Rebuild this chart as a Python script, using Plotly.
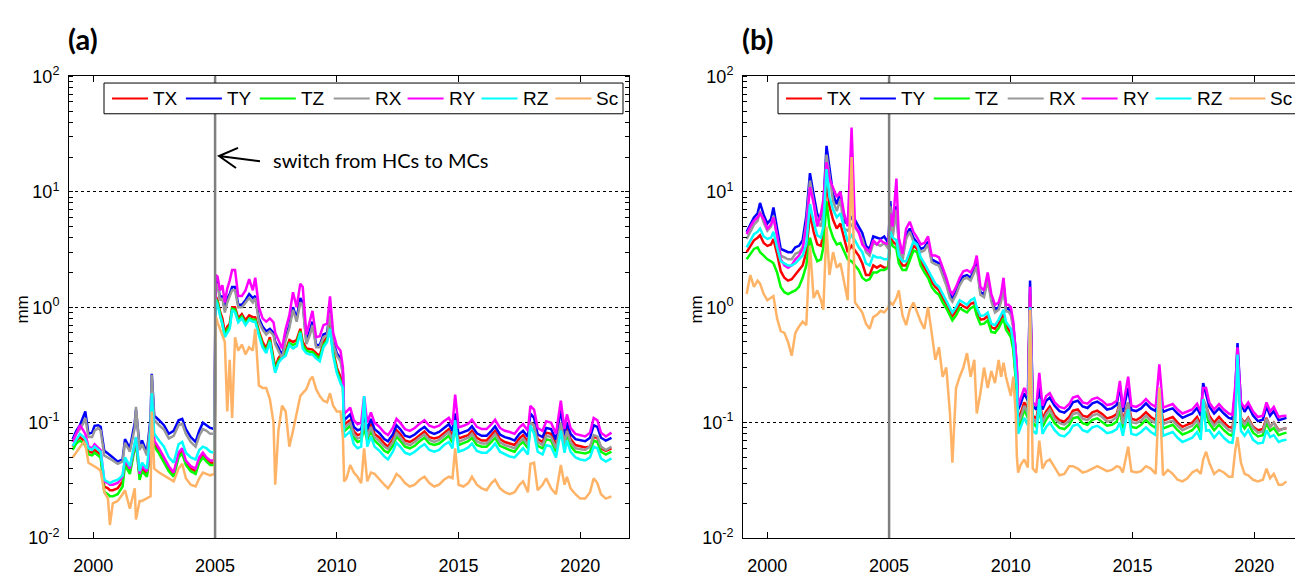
import plotly.graph_objects as go

W, H = 1295, 576
NAMES = ["TX", "TY", "TZ", "RX", "RY", "RZ", "Sc"]
COLORS = ["#ff0000", "#0000ff", "#00ff00", "#999999", "#ff00ff", "#00ffff", "#ffb366"]

X_TICKS = [2000, 2005, 2010, 2015, 2020]
Y_TICKS = [0.01, 0.1, 1, 10, 100]
Y_TICK_LABELS = ["10<sup>-2</sup>", "10<sup>-1</sup>", "10<sup>0</sup>", "10<sup>1</sup>", "10<sup>2</sup>"]
SWITCH_YEAR = 2005
PANEL_LABELS = ["(a)", "(b)"]
Y_TITLE = "mm"
NOTE = "switch from HCs to MCs"

# ---------------- panel (a) ----------------
a_dates = [
    1999.15, 1999.3, 1999.45, 1999.6, 1999.67, 1999.8, 1999.95, 2000.05, 2000.2, 2000.3,
    2000.45, 2000.6, 2000.68, 2000.8, 2001.0, 2001.2, 2001.3, 2001.5, 2001.7, 2001.75,
    2001.9, 2002.0, 2002.2, 2002.35, 2002.4, 2002.5, 2002.7, 2002.9, 2003.1, 2003.3,
    2003.5, 2003.65, 2003.8, 2004.0, 2004.2, 2004.35, 2004.5, 2004.65, 2004.8, 2004.98,
    2005.02, 2005.1, 2005.2, 2005.3, 2005.4, 2005.5, 2005.6, 2005.7, 2005.82, 2005.95,
    2006.1, 2006.25, 2006.4, 2006.55, 2006.65, 2006.8, 2006.95, 2007.1, 2007.25, 2007.4,
    2007.47, 2007.6, 2007.75, 2007.9, 2008.05, 2008.2, 2008.35, 2008.5, 2008.6, 2008.75,
    2008.9, 2009.0, 2009.15, 2009.3, 2009.45, 2009.6, 2009.72, 2009.85, 2010.0, 2010.15, 2010.25,
    2010.3, 2010.4, 2010.55, 2010.7, 2010.85, 2011.0, 2011.12, 2011.25, 2011.4, 2011.55,
    2011.75, 2011.95, 2012.1, 2012.3, 2012.45, 2012.6, 2012.8, 2013.0, 2013.2, 2013.4,
    2013.6, 2013.8, 2014.0, 2014.2, 2014.4, 2014.6, 2014.75, 2014.86, 2015.0, 2015.2,
    2015.4, 2015.55, 2015.75, 2015.95, 2016.15, 2016.35, 2016.5, 2016.7, 2016.9, 2017.1,
    2017.3, 2017.5, 2017.65, 2017.85, 2017.95, 2018.1, 2018.25, 2018.45, 2018.6, 2018.8,
    2019.0, 2019.2, 2019.35, 2019.45, 2019.6, 2019.8, 2020.0, 2020.2, 2020.4, 2020.55,
    2020.7, 2020.85, 2021.05, 2021.28,
]
a_TX = [
    .062, .07, .075, .07, .068, .056, .055, .058, .055, .052, .028, .027, .026, .026, .027, .031, .045, .038, .062, .07,
    .034, .04, .036, .058, .17, .065, .056, .047, .04, .036, .052, .056, .045, .04, .038, .047, .052, .048, .045, .045,
    1.25, 1.15, .92, .8, .6, .68, .72, 1.0, 1.0, .8, .87, .77, .85, .82, .82, .62, .5, .44, .55, .36,
    .3, .36, .4, .42, .52, .5, .52, .65, .5, .44, .43, .43, .4, .38, .5, .55, .7, .42, .3, .25, .22,
    .095, .1, .105, .084, .078, .08, .1, .08, .098, .08, .074, .066, .062, .072, .086, .08, .07, .068, .072, .078,
    .084, .075, .073, .075, .082, .088, .077, .1, .073, .075, .078, .085, .074, .07, .07, .078, .085, .072, .068, .066,
    .064, .073, .078, .068, .1, .095, .072, .068, .082, .08, .064, .1, .07, .09, .072, .064, .062, .061, .062, .075,
    .074, .06, .057, .06,
]
a_TY = [
    .072, .085, .095, .115, .125, .08, .082, .094, .095, .092, .057, .054, .052, .05, .046, .048, .072, .06, .1, .13,
    .062, .07, .055, .11, .265, .115, .105, .095, .08, .085, .105, .108, .088, .075, .068, .085, .1, .095, .09, .088,
    1.6, 1.7, 1.2, 1.25, .95, 1.2, 1.3, 1.5, 1.5, 1.05, 1.05, 1.15, 1.3, 1.2, 1.25, .8, .68, .62, .65, .6,
    .5, .45, .38, .55, .7, 1.0, .8, 1.2, 1.1, .5, .62, .75, .47, .47, .58, .6, .95, .5, .4, .36, .27,
    .105, .11, .118, .092, .086, .088, .115, .088, .108, .088, .081, .072, .069, .079, .095, .088, .077, .075, .079, .086,
    .092, .083, .08, .083, .09, .097, .085, .12, .08, .083, .086, .093, .081, .077, .077, .085, .093, .079, .075, .073,
    .07, .08, .085, .075, .12, .11, .079, .075, .09, .088, .071, .13, .078, .1, .08, .072, .07, .069, .074, .095,
    .092, .074, .07, .074,
]
a_TZ = [
    .058, .066, .07, .066, .064, .053, .052, .055, .052, .05, .025, .024, .023, .023, .024, .028, .043, .036, .06, .068,
    .032, .038, .034, .056, .165, .062, .054, .045, .038, .034, .05, .054, .043, .038, .036, .045, .05, .046, .043, .043,
    1.2, 1.1, .88, .75, .57, .64, .68, .97, .95, .77, .83, .73, .8, .78, .78, .6, .47, .42, .52, .34,
    .28, .34, .38, .4, .49, .47, .49, .62, .47, .42, .41, .41, .38, .36, .47, .52, .67, .4, .28, .23, .21,
    .084, .088, .094, .074, .068, .07, .09, .07, .086, .07, .064, .057, .055, .063, .076, .07, .062, .06, .063, .069,
    .074, .066, .064, .066, .072, .077, .067, .09, .064, .066, .069, .074, .064, .062, .062, .068, .074, .063, .06, .058,
    .056, .064, .068, .06, .09, .085, .063, .06, .072, .07, .056, .09, .062, .08, .063, .056, .055, .054, .056, .07,
    .068, .056, .053, .056,
]
a_RX = [
    .068, .08, .088, .1, .11, .075, .075, .085, .09, .085, .052, .05, .049, .047, .044, .046, .067, .056, .09, .137,
    .058, .065, .052, .1, .26, .105, .095, .087, .073, .077, .095, .098, .08, .068, .062, .077, .088, .085, .08, .08,
    1.5, 1.6, 1.15, 1.2, .9, 1.1, 1.25, 1.4, 1.4, 1.0, 1.0, 1.1, 1.2, 1.1, 1.2, .75, .64, .58, .62, .57,
    .48, .42, .36, .52, .66, .95, .75, 1.1, 1.05, .48, .58, .7, .45, .45, .55, .57, .9, .48, .38, .34, .26,
    .09, .094, .1, .079, .073, .075, .1, .075, .092, .075, .069, .062, .059, .068, .081, .075, .066, .064, .068, .074,
    .079, .071, .068, .071, .077, .083, .072, .095, .068, .071, .074, .08, .069, .066, .066, .073, .08, .068, .064, .062,
    .06, .068, .073, .064, .1, .095, .068, .064, .077, .075, .06, .1, .066, .085, .068, .06, .059, .058, .062, .078,
    .076, .062, .058, .062,
]
a_RY = [
    .068, .08, .095, .085, .08, .062, .06, .065, .06, .058, .031, .03, .029, .029, .03, .034, .048, .04, .065, .075,
    .036, .042, .038, .06, .17, .07, .06, .05, .042, .037, .055, .06, .047, .042, .04, .05, .055, .05, .047, .047,
    1.9, 1.85, 1.4, 1.55, 1.1, 1.45, 1.7, 2.1, 2.1, 1.25, 1.25, 1.4, 1.75, 1.4, 1.8, 1.0, .8, .75, .8, .74,
    .6, .52, .44, .65, .85, 1.35, 1.0, 1.6, 1.5, .58, .75, .93, .55, .56, .7, .72, 1.24, .6, .46, .42, .3,
    .12, .125, .135, .105, .097, .1, .17, .1, .123, .1, .092, .082, .078, .09, .108, .1, .088, .085, .09, .098,
    .105, .094, .091, .094, .103, .11, .096, .175, .091, .094, .098, .106, .092, .088, .088, .097, .106, .09, .085, .083,
    .08, .091, .097, .085, .14, .13, .09, .085, .103, .1, .08, .155, .088, .118, .09, .08, .078, .076, .082, .11,
    .105, .082, .076, .082,
]
a_RZ = [
    .063, .072, .08, .075, .072, .06, .058, .062, .058, .056, .032, .031, .03, .031, .032, .035, .05, .042, .07, .075,
    .038, .045, .04, .085, .18, .08, .07, .062, .05, .045, .065, .068, .055, .05, .048, .058, .062, .06, .056, .055,
    1.16, 1.05, .85, .72, .55, .6, .65, .95, .9, .74, .8, .7, .78, .75, .75, .57, .45, .4, .5, .32,
    .27, .33, .36, .38, .47, .44, .46, .6, .44, .4, .39, .39, .36, .34, .45, .5, .65, .38, .27, .22, .2,
    .075, .078, .084, .065, .06, .062, .17, .062, .076, .062, .057, .051, .048, .056, .067, .062, .055, .053, .056, .061,
    .065, .058, .056, .058, .064, .068, .06, .105, .056, .058, .061, .066, .057, .055, .055, .06, .066, .056, .053, .051,
    .05, .056, .06, .053, .095, .08, .056, .053, .064, .062, .05, .085, .055, .07, .056, .05, .048, .047, .05, .062,
    .06, .049, .046, .049,
]
a_Sc = [
    .05, .055, .062, .068, .065, .045, .043, .042, .04, .038, .025, .022, .013, .02, .021, .024, .026, .018, .027, .0145,
    .021, .021, .022, .023, .125, .04, .037, .035, .033, .031, .04, .044, .033, .029, .028, .033, .037, .036, .035, .036,
    .84, .74, .65, .59, .5, .125, .35, .11, .55, .42, .475, .39, .45, .42, .65, .21, .2, .2, .16, .1,
    .029, .085, .14, .125, .062, .085, .125, .17, .18, .195, .236, .25, .195, .17, .155, .15, .18, .14, .125, .125, .075,
    .031, .033, .043, .037, .034, .03, .06, .031, .037, .036, .032, .029, .027, .031, .036, .034, .03, .028, .029, .032,
    .034, .03, .028, .029, .032, .034, .033, .06, .029, .028, .03, .034, .029, .027, .026, .03, .032, .027, .025, .024,
    .025, .029, .031, .025, .044, .045, .026, .029, .033, .027, .024, .043, .029, .034, .027, .024, .022, .022, .025, .033,
    .03, .024, .022, .023,
]

# ---------------- panel (b) ----------------
b_dates = [
    1999.15, 1999.3, 1999.45, 1999.6, 1999.7, 1999.85, 2000.0, 2000.15, 2000.25, 2000.4,
    2000.55, 2000.7, 2000.85, 2001.0, 2001.15, 2001.3, 2001.45, 2001.6, 2001.75, 2001.9,
    2002.05, 2002.2, 2002.3, 2002.43, 2002.55, 2002.7, 2002.85, 2003.0, 2003.15, 2003.3,
    2003.46, 2003.6, 2003.75, 2003.9, 2004.05, 2004.2, 2004.35, 2004.5, 2004.65, 2004.8, 2004.97,
    2005.05, 2005.15, 2005.3, 2005.4, 2005.55, 2005.7, 2005.85, 2006.0, 2006.15, 2006.3,
    2006.45, 2006.6, 2006.75, 2006.9, 2007.05, 2007.2, 2007.35, 2007.5, 2007.6, 2007.75,
    2007.9, 2008.05, 2008.2, 2008.35, 2008.5, 2008.6, 2008.75, 2008.9, 2009.05, 2009.2,
    2009.35, 2009.5, 2009.6, 2009.7, 2009.8, 2009.9, 2010.0, 2010.1, 2010.2, 2010.25,
    2010.3, 2010.4, 2010.55, 2010.7, 2010.79, 2010.9, 2011.05, 2011.17, 2011.3, 2011.45,
    2011.6, 2011.8, 2012.0, 2012.2, 2012.4, 2012.55, 2012.75, 2012.95, 2013.15, 2013.35,
    2013.55, 2013.75, 2013.95, 2014.15, 2014.35, 2014.48, 2014.6, 2014.82, 2014.95, 2015.15,
    2015.35, 2015.55, 2015.75, 2015.95, 2016.1, 2016.25, 2016.45, 2016.65, 2016.85, 2017.05,
    2017.25, 2017.45, 2017.65, 2017.8, 2017.9, 2018.02, 2018.15, 2018.35, 2018.55, 2018.75,
    2018.95, 2019.1, 2019.22, 2019.31, 2019.45, 2019.6, 2019.75, 2019.95, 2020.15, 2020.35,
    2020.5, 2020.65, 2020.8, 2021.0, 2021.15, 2021.32,
]
b_TX = [
    3.0, 3.4, 3.8, 4.0, 4.2, 3.6, 3.4, 3.5, 3.9, 2.9, 2.05, 1.8, 1.7, 1.75, 1.9, 2.1, 2.3, 3.0, 6.5, 4.5,
    3.5, 3.4, 4.3, 13, 7.5, 5.7, 4.8, 5.3, 4.0, 3.0, 3.4, 3.1, 2.8, 2.4, 1.9, 1.9, 2.3, 2.2, 2.3, 2.2, 2.2,
    4.2, 3.7, 3.5, 2.6, 2.3, 2.3, 2.8, 3.4, 3.2, 2.5, 2.2, 1.95, 1.65, 1.5, 1.4, 1.2, 1.07, .93, .84, .93,
    1.07, 1.02, .98, 1.07, 1.1, .93, .78, .79, .84, .67, .65, .72, .79, .88, .7, .65, .6, .46, .28, .19,
    .11, .12, .15, .13, 1.3, .115, .108, .16, .108, .125, .138, .115, .105, .102, .112, .127, .13, .115, .112, .123,
    .127, .119, .109, .112, .119, .15, .104, .15, .108, .105, .112, .123, .112, .105, .17, .104, .108, .112, .1, .092,
    .096, .1, .112, .096, .15, .14, .115, .1, .112, .1, .092, .09, .14, .35, .11, .1, .11, .092, .086, .088,
    .11, .092, .1, .086, .088, .09,
]
b_TY = [
    4.5, 5.2, 6.0, 6.5, 8.0, 6.3, 5.3, 5.8, 7.3, 4.8, 3.2, 3.1, 3.0, 3.0, 3.3, 3.4, 3.8, 6.2, 14.5, 9.5,
    6.4, 5.7, 7.6, 25, 16, 9.5, 7.8, 10, 5.5, 5.3, 6.0, 5.7, 5.0, 4.4, 3.4, 3.2, 4.1, 4.0, 3.9, 4.1, 3.6,
    8.3, 4.4, 7.5, 3.6, 2.7, 4.2, 4.8, 4.0, 3.6, 3.2, 3.3, 3.7, 2.6, 2.5, 2.4, 2.0, 1.65, 1.3, 1.2, 1.35,
    1.65, 1.85, 1.9, 1.8, 2.1, 2.4, 1.35, 1.3, 1.8, 1.2, .95, 1.0, 1.2, 1.6, .97, .97, .9, .7, .42, .28,
    .13, .145, .18, .155, 1.7, .14, .13, .2, .13, .155, .165, .14, .126, .122, .133, .15, .155, .138, .134, .147,
    .152, .143, .13, .133, .143, .21, .124, .2, .129, .126, .133, .147, .133, .126, .2, .124, .129, .133, .12, .11,
    .115, .12, .134, .115, .22, .18, .138, .12, .133, .12, .11, .108, .19, .49, .15, .124, .14, .115, .103, .106,
    .138, .115, .126, .105, .108, .11,
]
b_TZ = [
    2.6, 2.9, 3.2, 3.3, 3.0, 2.8, 2.6, 2.5, 2.4, 2.0, 1.5, 1.35, 1.3, 1.35, 1.4, 1.5, 1.8, 2.3, 4.0, 3.0,
    2.5, 2.6, 3.3, 8.3, 5.0, 4.0, 3.5, 3.6, 3.0, 2.6, 2.5, 2.3, 2.1, 1.8, 1.7, 1.75, 2.0, 2.0, 2.1, 2.1, 2.2,
    3.8, 3.4, 3.2, 2.4, 2.1, 2.1, 2.55, 3.1, 3.0, 2.3, 2.0, 1.8, 1.5, 1.36, 1.28, 1.1, .98, .85, .77, .85,
    .98, .94, .9, .98, 1.02, .85, .71, .72, .77, .61, .6, .66, .72, .8, .64, .6, .55, .43, .26, .18,
    .092, .1, .13, .11, 1.2, .1, .092, .13, .092, .106, .118, .099, .09, .088, .096, .109, .112, .099, .096, .106,
    .109, .102, .094, .096, .102, .13, .089, .13, .092, .09, .096, .106, .096, .09, .15, .089, .092, .096, .086, .079,
    .082, .086, .096, .082, .13, .12, .099, .086, .096, .086, .079, .077, .12, .33, .1, .089, .099, .082, .076, .078,
    .099, .085, .09, .078, .08, .082,
]
b_RX = [
    3.9, 4.5, 5.2, 5.6, 6.8, 5.4, 4.6, 5.0, 6.2, 4.1, 2.8, 2.7, 2.6, 2.6, 2.9, 3.0, 3.3, 5.3, 12.5, 8.2,
    5.5, 5.0, 6.6, 21, 14, 8.3, 6.8, 8.6, 4.8, 4.6, 5.2, 5.0, 4.4, 3.9, 3.0, 2.8, 3.6, 3.5, 3.4, 3.6, 3.2,
    7.5, 4.1, 7.0, 3.4, 2.55, 3.9, 4.5, 3.7, 3.4, 3.0, 3.1, 3.5, 2.45, 2.35, 2.3, 1.9, 1.55, 1.2, 1.12, 1.28,
    1.55, 1.75, 1.8, 1.7, 2.0, 2.25, 1.28, 1.22, 1.7, 1.12, .9, .95, 1.12, 1.5, .92, .92, .85, .66, .4, .27,
    .1, .11, .14, .12, 1.35, .108, .1, .15, .1, .118, .13, .108, .099, .096, .104, .119, .122, .108, .105, .115,
    .119, .112, .102, .104, .112, .15, .097, .15, .101, .099, .104, .115, .104, .099, .17, .097, .101, .104, .094, .086,
    .09, .094, .105, .09, .16, .14, .108, .094, .104, .094, .086, .084, .14, .36, .108, .097, .108, .09, .082, .084,
    .108, .092, .1, .085, .088, .09,
]
b_RY = [
    4.3, 5.0, 5.6, 6.0, 6.5, 5.8, 4.8, 5.2, 6.0, 4.2, 2.6, 2.3, 2.2, 2.3, 2.6, 2.8, 3.2, 5.0, 11, 8.0,
    5.0, 6.5, 8.5, 18, 13, 11, 9.0, 10, 6.5, 5.0, 36, 5.0, 4.5, 3.5, 3.2, 3.0, 3.8, 3.5, 3.8, 3.6, 3.5,
    6.5, 5.0, 13, 4.0, 2.9, 4.8, 5.5, 4.5, 4.0, 3.5, 3.6, 4.1, 2.8, 2.8, 2.7, 2.2, 1.8, 1.4, 1.3, 1.5,
    1.8, 2.05, 2.1, 2.0, 2.3, 2.8, 1.5, 1.4, 2.0, 1.3, 1.05, 1.1, 1.3, 1.8, 1.05, 1.05, 1.0, .75, .45, .3,
    .14, .16, .2, .17, 1.5, .15, .14, .27, .14, .17, .18, .15, .137, .133, .145, .165, .17, .15, .146, .16,
    .165, .155, .142, .145, .155, .23, .135, .25, .14, .137, .145, .16, .145, .137, .32, .135, .14, .145, .13, .12,
    .125, .13, .146, .125, .2, .2, .15, .13, .145, .13, .12, .117, .21, .45, .15, .135, .15, .125, .112, .115,
    .15, .125, .137, .112, .114, .115,
]
b_RZ = [
    3.3, 3.8, 4.3, 4.5, 4.8, 4.1, 3.9, 4.0, 4.5, 3.3, 2.5, 2.4, 2.3, 2.3, 2.4, 2.6, 2.8, 3.5, 7.8, 5.5,
    4.2, 4.0, 5.0, 15.7, 9.0, 7.0, 6.0, 6.5, 5.0, 3.7, 4.2, 3.8, 3.3, 3.0, 2.4, 2.3, 2.8, 2.7, 2.7, 2.6, 2.6,
    4.5, 4.0, 3.8, 2.8, 2.5, 2.5, 3.0, 3.7, 3.5, 2.7, 2.4, 2.1, 1.8, 1.6, 1.5, 1.3, 1.15, 1.0, .9, 1.0,
    1.15, 1.1, 1.05, 1.15, 1.2, 1.0, .84, .85, .9, .72, .7, .78, .85, .95, .75, .7, .65, .5, .3, .2,
    .08, .09, .11, .095, 1.0, .085, .08, .16, .08, .092, .1, .086, .078, .076, .083, .094, .097, .086, .083, .091,
    .094, .088, .081, .083, .088, .1, .077, .13, .08, .078, .083, .091, .083, .078, .2, .077, .08, .083, .074, .068,
    .071, .074, .083, .071, .16, .085, .086, .074, .083, .074, .068, .067, .1, .39, .085, .077, .086, .071, .066, .067,
    .086, .075, .078, .068, .07, .071,
]
b_Sc = [
    1.3, 1.9, 1.5, 1.7, 1.6, 1.3, 1.15, 1.2, 1.25, .8, .62, .6, .5, .38, .6, .68, .75, .7, 3.4, 1.2,
    1.4, 1.15, .95, 5.0, 1.9, 3.0, 2.2, 2.4, 1.6, 1.15, 20, 1.1, 1.0, .9, .72, .65, .82, .86, .93, .9, 1.0,
    1.1, 1.05, 1.2, 1.4, .85, .7, .95, 1.1, .9, .75, .65, 1.0, .6, .35, .45, .25, .3, .12, .045, .2,
    .25, .3, .4, .25, .35, .12, .18, .3, .2, .28, .22, .35, .25, .33, .25, .2, .17, .25, .12, .05,
    .037, .043, .048, .041, .95, .04, .037, .07, .04, .046, .048, .041, .035, .036, .042, .042, .04, .037, .038, .04,
    .042, .04, .038, .039, .042, .041, .037, .062, .038, .037, .038, .042, .04, .036, .2, .035, .039, .036, .032, .031,
    .033, .037, .039, .036, .048, .056, .045, .036, .039, .037, .034, .034, .058, .075, .045, .036, .035, .032, .031, .032,
    .04, .033, .036, .029, .029, .031,
]

PANELS = [
    ("x", "y", a_dates, [a_TX, a_TY, a_TZ, a_RX, a_RY, a_RZ, a_Sc]),
    ("x2", "y2", b_dates, [b_TX, b_TY, b_TZ, b_RX, b_RY, b_RZ, b_Sc]),
]

fig = go.Figure()
for xa, ya, dates, series in PANELS:
    for name, col, vals in zip(NAMES, COLORS, series):
        n = min(len(dates), len(vals))
        fig.add_trace(go.Scatter(
            x=dates[:n], y=vals[:n], mode="lines", name=name,
            line=dict(color=col, width=2.5), xaxis=xa, yaxis=ya,
            showlegend=False, hoverinfo="skip"))

# ---------------- geometry helpers (pixel -> paper) ----------------
def px(p):
    return p / W


def py(p):
    return 1 - p / H


PX_PER_YEAR = 560 / 23.0
LEFT_A, RIGHT_A, LEFT_B = 69, 629, 743
TOP, BOTTOM = 67, 548
OFFSET_B = LEFT_B - LEFT_A

SANS = "Liberation Sans"
tick_font = dict(family=SANS, size=18, color="black")
minor_y = [m * 10.0 ** k for k in range(-2, 2) for m in range(1, 10)] + [100]

# Major ticks are drawn outside but transparent (they only push the labels away from
# the axis); the visible inward ticks are the "minor" ticks.
x_common = dict(tickmode="array", tickvals=X_TICKS, ticks="outside", ticklen=11,
                tickcolor="rgba(0,0,0,0)", showline=True, linecolor="black", linewidth=1,
                mirror="allticks", showgrid=False, zeroline=False, tickfont=tick_font,
                minor=dict(tickmode="array", tickvals=X_TICKS, ticks="inside", ticklen=6,
                           tickcolor="black", showgrid=False))
y_common = dict(type="log", range=[-2, 2], tickmode="array", tickvals=Y_TICKS,
                ticktext=Y_TICK_LABELS, ticks="outside", ticklen=5, tickcolor="rgba(0,0,0,0)",
                showline=True, linecolor="black", linewidth=1, showgrid=True,
                gridcolor="black", griddash="dot", gridwidth=1, zeroline=False,
                tickfont=tick_font,
                minor=dict(tickmode="array", tickvals=minor_y, ticks="inside",
                           ticklen=4, tickcolor="black", showgrid=False),
                domain=[py(BOTTOM), py(TOP)])

fig.update_layout(
    xaxis=dict(domain=[px(LEFT_A), px(RIGHT_A)], range=[1999, 2022], anchor="y", **x_common),
    yaxis=dict(anchor="x", mirror="allticks", **y_common),
    xaxis2=dict(domain=[px(LEFT_B), 1.0], range=[1999, 1999 + (W - LEFT_B) / PX_PER_YEAR],
                anchor="y2", **x_common),
    yaxis2=dict(anchor="x2", mirror=False, **y_common),
)

shapes = []
annotations = []

# switch lines
for xa in ["x", "x2"]:
    shapes.append(dict(type="line", xref=xa, yref=("y" if xa == "x" else "y2") + " domain",
                       x0=SWITCH_YEAR, x1=SWITCH_YEAR, y0=0, y1=1,
                       line=dict(color="#7f7f7f", width=2.5), layer="above"))

# legends (drawn manually so the panel-b legend is cut at the page edge like the original)
LEG_STEP = 73.9
for off in [0, OFFSET_B]:
    shapes.append(dict(type="rect", xref="paper", yref="paper",
                       x0=px(104 + off), x1=px(623 + off), y0=py(106), y1=py(74),
                       line=dict(color="black", width=1), fillcolor="white", layer="above"))
    for i, (name, col) in enumerate(zip(NAMES, COLORS)):
        x0 = 112 + off + i * LEG_STEP
        shapes.append(dict(type="line", xref="paper", yref="paper",
                           x0=px(x0), x1=px(x0 + 36), y0=py(90), y1=py(90),
                           line=dict(color=col, width=2), layer="above"))
        annotations.append(dict(text=name, xref="paper", yref="paper", x=px(x0 + 39), y=py(90.5),
                                xanchor="left", yanchor="middle", showarrow=False,
                                font=dict(family=SANS, size=19, color="black")))

# panel labels and y titles
for lab, off in zip(PANEL_LABELS, [0, OFFSET_B]):
    annotations.append(dict(text="<b>" + lab + "</b>", xref="paper", yref="paper",
                            x=px(66 + off), y=py(28), xanchor="left", yanchor="middle",
                            showarrow=False, font=dict(family="Lato", size=29, color="black")))
    annotations.append(dict(text=Y_TITLE, xref="paper", yref="paper", x=px(23 + off), y=py(310),
                            xanchor="center", yanchor="middle", textangle=-90, showarrow=False,
                            font=dict(family=SANS, size=17, color="black")))

# arrow + note in panel (a)
arrow = "M {},{} L {},{} M {},{} L {},{} L {},{}".format(
    px(260), py(155.5), px(219), py(150),
    px(238), py(141.5), px(219), py(150), px(236), py(162.5))
shapes.append(dict(type="path", xref="paper", yref="paper", path=arrow,
                   line=dict(color="black", width=2), layer="above"))
annotations.append(dict(text=NOTE, xref="paper", yref="paper", x=px(271), y=py(154),
                        xanchor="left", yanchor="middle", showarrow=False,
                        font=dict(family="Lato", size=20, color="black")))

fig.update_layout(width=W, height=H, margin=dict(l=0, r=0, t=0, b=0),
                  paper_bgcolor="white", plot_bgcolor="white", showlegend=False,
                  shapes=shapes, annotations=annotations)

fig.write_html("out.html")
